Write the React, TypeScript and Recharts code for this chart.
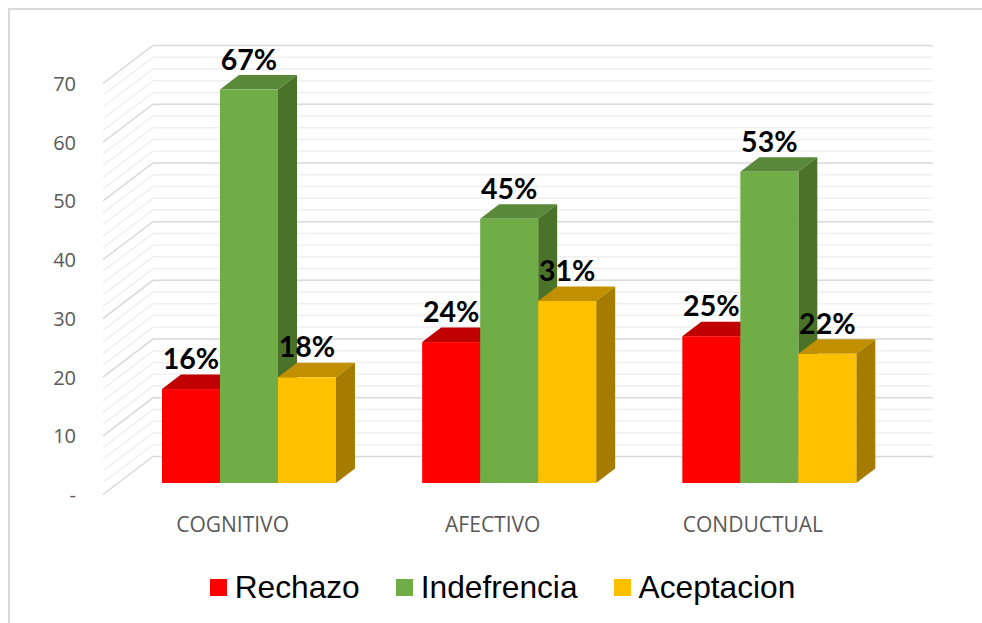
import React from 'react';
import { BarChart, Bar, CartesianGrid, XAxis, YAxis, Legend, LabelList } from 'recharts';

const categories = ['COGNITIVO', 'AFECTIVO', 'CONDUCTUAL'];
const rechazo = [16, 24, 25];
const indefrencia = [67, 45, 53];
const aceptacion = [18, 31, 22];
const yTicks = [0, 10, 20, 30, 40, 50, 60, 70];
const gridValues = [0, 2, 4, 6, 8, 10, 12, 14, 16, 18, 20, 22, 24, 26, 28, 30, 32, 34, 36, 38, 40, 42, 44, 46, 48, 50, 52, 54, 56, 58, 60, 62, 64, 66, 68, 70];

const data = categories.map((name, i) => ({
  name,
  rechazo: rechazo[i],
  indefrencia: indefrencia[i],
  aceptacion: aceptacion[i],
}));

const depthX = 19;
const depthY = 14.5;

const make3dBar = (topColor: string, sideColor: string) => (props: any) => {
  const { x, y, width, height, fill } = props;
  return (
    <g>
      <polygon
        points={`${x},${y} ${x + depthX},${y - depthY} ${x + width + depthX},${y - depthY} ${x + width},${y}`}
        fill={topColor}
      />
      <polygon
        points={`${x + width},${y} ${x + width + depthX},${y - depthY} ${x + width + depthX},${y + height - depthY} ${x + width},${y + height}`}
        fill={sideColor}
      />
      <rect x={x} y={y} width={width} height={height} fill={fill} />
    </g>
  );
};

// one grid line: left wall going back, then along the back wall
const gridLine = (props: any) => {
  const { x1, x2, y1, index } = props;
  const major = index % 5 === 0;
  return (
    <polyline
      key={index}
      points={`${x1 - 15.5},${y1 + 11.5} ${x1 + 34.5},${y1 - 26.5} ${x2 + 34},${y1 - 26.5}`}
      fill="none"
      stroke={major ? '#d9d9d9' : '#f0f0f0'}
      strokeWidth={1.5}
    />
  );
};

const YTick = (props: any) => {
  const { payload, y } = props;
  return (
    <text x={76} y={y + 19} textAnchor="end" fontFamily="Open Sans" fontSize={20} fill="#595959">
      {payload.value === 0 ? '-' : payload.value}
    </text>
  );
};

const XTick = (props: any) => {
  const { payload, x } = props;
  return (
    <text x={x - 16} y={532} textAnchor="middle" fontFamily="Open Sans" fontSize={21} fill="#595959">
      {payload.value}
    </text>
  );
};

const PercentLabel = (props: any) => {
  const { x, y, width, value } = props;
  return (
    <text
      x={x + width / 2}
      y={y - 20}
      textAnchor="middle"
      fontFamily="Lato"
      fontWeight={700}
      fontSize={28.5}
      fill="#000000"
    >
      {`${value}%`}
    </text>
  );
};

const ChartLegend = (props: any) => (
  <div
    style={{
      display: 'flex',
      justifyContent: 'center',
      gap: 36,
      paddingLeft: 23,
      fontFamily: 'Liberation Sans',
      fontSize: 31.7,
      color: '#000000',
      height: 40,
      lineHeight: '40px',
    }}
  >
    {props.payload.map((item: any) => (
      <div key={item.value} style={{ display: 'flex', alignItems: 'center', gap: 8 }}>
        <span style={{ width: 17, height: 17, background: item.color, display: 'block' }} />
        <span>{item.value}</span>
      </div>
    ))}
  </div>
);

export default function App() {
  return (
    <div style={{ position: 'absolute', left: 0, top: 0, width: 982, height: 623, background: '#ffffff' }}>
      <div
        style={{
          position: 'absolute',
          left: 8,
          top: 8,
          right: 0,
          bottom: 0,
          borderTop: '2px solid #d9d9d9',
          borderLeft: '2px solid #d9d9d9',
        }}
      />
      <BarChart
        width={982}
        height={623}
        data={data}
        barCategoryGap={43.5}
        barGap={0}
        margin={{ top: 72, right: 83, bottom: 70, left: 58.5 }}
        style={{ position: 'absolute', left: 0, top: 0 }}
      >
        <CartesianGrid horizontalValues={gridValues} vertical={false} horizontal={gridLine} />
        <XAxis dataKey="name" axisLine={false} tickLine={false} tick={XTick} height={30} interval={0} />
        <YAxis domain={[0, 70]} ticks={yTicks} interval={0} axisLine={false} tickLine={false} tick={YTick} width={60} />
        <Legend
          content={ChartLegend}
          itemSorter={null}
          verticalAlign="bottom"
          wrapperStyle={{ left: 0, width: 982, top: 567, height: 40 }}
        />
        <Bar dataKey="rechazo" name="Rechazo" fill="#ff0000" shape={make3dBar('#c00000', '#a60000')} isAnimationActive={false}>
          <LabelList dataKey="rechazo" content={PercentLabel} />
        </Bar>
        <Bar dataKey="indefrencia" name="Indefrencia" fill="#70ad47" shape={make3dBar('#5a8a39', '#4a7229')} isAnimationActive={false}>
          <LabelList dataKey="indefrencia" content={PercentLabel} />
        </Bar>
        <Bar dataKey="aceptacion" name="Aceptacion" fill="#ffc000" shape={make3dBar('#c09000', '#a67c00')} isAnimationActive={false}>
          <LabelList dataKey="aceptacion" content={PercentLabel} />
        </Bar>
      </BarChart>
    </div>
  );
}
